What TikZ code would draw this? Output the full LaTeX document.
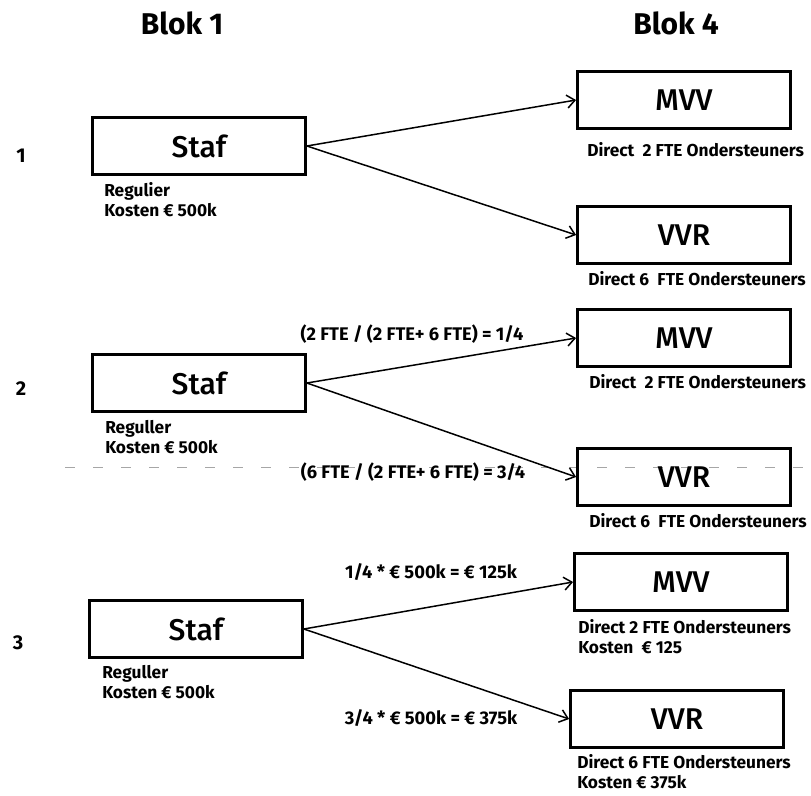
\documentclass[tikz,border=0pt]{standalone}
\usepackage{fontspec}
\setmainfont{Fira Sans}
\newfontfamily\blokfont{Fira Sans Medium}
\usetikzlibrary{positioning,arrows.meta}

\tikzset{
  kop/.style={font=\bfseries\fontsize{30}{30}\selectfont, inner sep=0pt},
  nummer/.style={font=\bfseries\fontsize{20}{20}\selectfont, inner sep=0pt},
  blok/.style={draw, line width=2.8pt, minimum width=213pt, minimum height=57pt,
    inner sep=0pt, font=\blokfont\fontsize{30}{30}\selectfont},
  info/.style={font=\bfseries\fontsize{17.3}{20}\selectfont, align=left, inner sep=0pt},
  reken/.style={font=\bfseries\fontsize{18.3}{20}\selectfont, inner sep=0pt},
  pijl/.style={->, line width=1.5pt},
}

\begin{document}
\begin{tikzpicture}[x=1pt, y=-1pt, >={Straight Barb[length=8pt,width=13pt]}]
\useasboundingbox (0,0) rectangle (811,795);

% kolomkoppen
\node[kop] (blok1) at (182,23) {Blok 1};
\node[kop] (blok4) at (676,23) {Blok 4};

% rij 1
\node[nummer] (nr1) at (21,156) {1};
\node[blok] (staf1) at (199,146) {Staf};
\node[blok] (mvv1) at (684,100) {MVV};
\node[blok] (vvr1) at (684,235) {VVR};
\node[info, below=6pt of staf1.south west, anchor=north west, xshift=13pt] (kosten1)
    {Regulier\\Kosten € 500k};
\node[info, below=12pt of mvv1.south west, anchor=north west, xshift=11pt] (fte1a)
    {Direct\ \ 2 FTE Ondersteuners};
\node[info, below=6pt of vvr1.south west, anchor=north west, xshift=12pt] (fte1b)
    {Direct 6\ \ FTE Ondersteuners};
\draw[pijl] (staf1.east) -- (mvv1.west);
\draw[pijl] (staf1.east) -- (vvr1.west);

% rij 2
\draw[gray!70, line width=0.6pt, dash pattern=on 10pt off 18pt] (65,467) -- (811,467);
\node[nummer] (nr2) at (21,389) {2};
\node[blok] (staf2) at (199,383) {Staf};
\node[blok] (mvv2) at (684,338) {MVV};
\node[blok] (vvr2) at (684,477) {VVR};
\node[info, below=7pt of staf2.south west, anchor=north west, xshift=14pt] (kosten2)
    {Reguller\\Kosten € 500k};
\node[info, below=6pt of mvv2.south west, anchor=north west, xshift=13pt] (fte2a)
    {Direct\ \ 2 FTE Ondersteuners};
\node[info, below=6pt of vvr2.south west, anchor=north west, xshift=13pt] (fte2b)
    {Direct 6\ \ FTE Ondersteuners};
\draw[pijl] (staf2.east) -- (mvv2.west);
\draw[pijl] (staf2.east) -- (vvr2.west);
\node[reken] (deel2a) at (412,334) {(2 FTE / (2 FTE+ 6 FTE) = 1/4};
\node[reken] (deel2b) at (413,472) {(6 FTE / (2 FTE+ 6 FTE) = 3/4};

% rij 3
\node[nummer] (nr3) at (18,643) {3};
\node[blok] (staf3) at (196,629) {Staf};
\node[blok] (mvv3) at (681,582) {MVV};
\node[blok] (vvr3) at (677,719) {VVR};
\node[info, below=6pt of staf3.south west, anchor=north west, xshift=14pt] (kosten3)
    {Reguller\\Kosten € 500k};
\node[info, below=7pt of mvv3.south west, anchor=north west, xshift=5pt] (fte3a)
    {Direct 2 FTE Ondersteuners\\Kosten\ \ € 125};
\node[info, below=5pt of vvr3.south west, anchor=north west, xshift=8pt] (fte3b)
    {Direct 6 FTE Ondersteuners\\Kosten € 375k};
\draw[pijl] (staf3.east) -- (mvv3.west);
\draw[pijl] (staf3.east) -- (vvr3.west);
\node[reken] (deel3a) at (431,572) {1/4 * € 500k = € 125k};
\node[reken] (deel3b) at (431,718) {3/4 * € 500k = € 375k};

\end{tikzpicture}
\end{document}
